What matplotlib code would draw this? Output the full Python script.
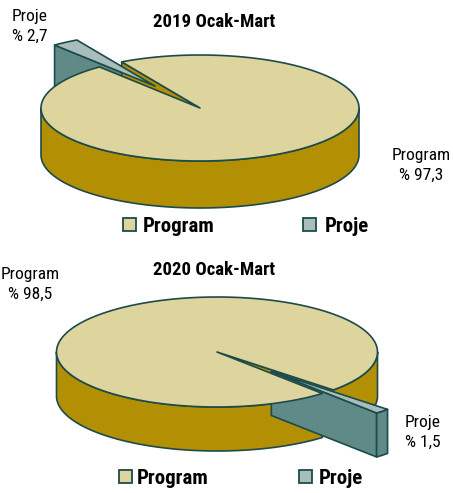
import numpy as np
import matplotlib
matplotlib.use("Agg")
import matplotlib.pyplot as plt
from matplotlib import font_manager
from matplotlib.patches import Polygon, Rectangle

# condensed face if one is there, else fall back
names = {f.name for f in font_manager.fontManager.ttflist}
narrow = [n for n in ['Roboto Condensed', 'Liberation Sans Narrow',
                      'Arial Narrow', 'DejaVu Sans Condensed',
                      'Open Sans Condensed', 'Noto Sans Condensed']
          if n in names]
plt.rcParams['font.family'] = narrow + ['DejaVu Sans']
plt.rcParams['font.stretch'] = 'condensed'
have_narrow = bool(narrow) or any(
    f.stretch == 'condensed' and f.name == 'DejaVu Sans'
    for f in font_manager.fontManager.ttflist)
scale = 1.0 if have_narrow else 0.8

# %% data
categories = ['Program', 'Proje']
values_2019 = [97.3, 2.7]
values_2020 = [98.5, 1.5]
labels_2019 = ['Program\n% 97,3', 'Proje\n% 2,7']
labels_2020 = ['Program\n% 98,5', 'Proje\n% 1,5']
titles = ['2019 Ocak-Mart', '2020 Ocak-Mart']

top_colors = ['#ddd49e', '#a8bebc']
side_colors = ['#b38f03', '#5f8a87']
edge_color = '#1d4b4a'


def pie3d(ax, values, cx, cy, rx, ry, depth, start, explode):
    """Excel-like 3D pie; slices laid out counter-clockwise from `start`
    beginning with the last category."""
    def proj(x, y, z):
        return cx + rx * x, cy - ry * y + depth * (1 - z)

    order = list(range(len(values)))[::-1]
    a0 = np.radians(start)
    sides, tops = [], []
    for i in order:
        a1 = a0 + np.radians(values[i] * 3.6)
        tm = 0.5 * (a0 + a1)
        ox, oy = explode[i] * np.cos(tm), explode[i] * np.sin(tm)

        # radial faces
        for ang, vis in [(a0, np.cos(a0) > 0), (a1, np.cos(a1) < 0)]:
            if not vis:
                continue
            ex, ey = ox + np.cos(ang), oy + np.sin(ang)
            pts = [proj(ox, oy, 1), proj(ex, ey, 1),
                   proj(ex, ey, 0), proj(ox, oy, 0)]
            sides.append((oy + 0.5 * np.sin(ang), pts, side_colors[i]))

        # outer wall, front part only
        cuts = [a0] + [k * np.pi for k in range(-4, 6)
                       if a0 < k * np.pi < a1] + [a1]
        for b0, b1 in zip(cuts[:-1], cuts[1:]):
            if np.sin(0.5 * (b0 + b1)) >= 0:
                continue
            t = np.linspace(b0, b1, 80)
            xs, ys = ox + np.cos(t), oy + np.sin(t)
            pts = [proj(x, y, 1) for x, y in zip(xs, ys)]
            pts += [proj(x, y, 0) for x, y in zip(xs[::-1], ys[::-1])]
            sides.append((oy + np.mean(np.sin(t)), pts, side_colors[i]))

        # top face
        t = np.linspace(a0, a1, 200)
        pts = [proj(ox, oy, 1)]
        pts += [proj(ox + np.cos(a), oy + np.sin(a), 1) for a in t]
        tops.append((pts + [proj(ox, oy, 1)], top_colors[i]))
        a0 = a1

    z = 2
    for key, pts, col in sorted(sides, key=lambda s: -s[0]):
        ax.add_patch(Polygon(pts, closed=True, fc=col, ec=edge_color,
                             lw=1.2, joinstyle='round', zorder=z))
        z += 1
    for pts, col in tops:
        ax.add_patch(Polygon(pts, closed=True, fc=col, ec=edge_color,
                             lw=1.2, joinstyle='round', zorder=z))
        z += 1


fig = plt.figure(figsize=(4.53, 4.93), dpi=100)
ax = fig.add_axes([0, 0, 1, 1])
ax.set_xlim(0, 453)
ax.set_ylim(493, 0)
ax.axis('off')

fs_title, fs_lab, fs_leg = 13.5 * scale, 12.5 * scale, 15 * scale
ls = 1.4

# 2019
pie3d(ax, values_2019, cx=200, cy=108, rx=159, ry=53, depth=47,
      start=119.5, explode=[0, 0.5])
ax.text(214, 22, titles[0], ha='center', va='center', fontsize=fs_title,
        fontweight='bold')
ax.text(30, 26, labels_2019[1], ha='center', va='center', fontsize=fs_lab,
        linespacing=ls)
ax.text(421, 165, labels_2019[0], ha='center', va='center', fontsize=fs_lab,
        linespacing=ls)

# 2020
pie3d(ax, values_2020, cx=217, cy=352, rx=160.5, ry=55, depth=44,
      start=-49, explode=[0, 0.49])
ax.text(214, 270, titles[1], ha='center', va='center', fontsize=fs_title,
        fontweight='bold')
ax.text(30, 284, labels_2020[0], ha='center', va='center', fontsize=fs_lab,
        linespacing=ls)
ax.text(423, 432, labels_2020[1], ha='center', va='center', fontsize=fs_lab,
        linespacing=ls)

# legends
legend_pos = [(225, [(123, 143), (303, 325)]), (477, [(119, 137), (299, 319)])]
for ly, items in legend_pos:
    for (bx, tx), name, col in zip(items, categories, top_colors):
        ax.add_patch(Rectangle((bx, ly - 7), 13, 13, fc=col, ec=edge_color,
                               lw=1.3, zorder=50))
        ax.text(tx, ly + 7.5, name, ha='left', va='baseline', fontsize=fs_leg,
                fontweight='bold')

fig.savefig('out.png', dpi=100)
